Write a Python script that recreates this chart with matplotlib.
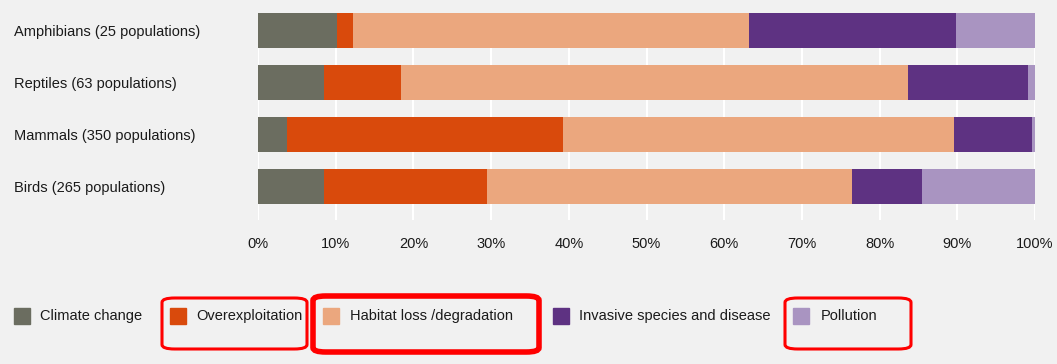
import matplotlib.pyplot as plt
import numpy as np
from matplotlib.patches import FancyBboxPatch, Rectangle

plt.rcParams['font.family'] = ['Liberation Sans', 'DejaVu Sans']

# data (percent of threats per group)
groups = ["Amphibians (25 populations)", "Reptiles (63 populations)",
          "Mammals (350 populations)", "Birds (265 populations)"]
threats = ["Climate change", "Overexploitation", "Habitat loss /degradation",
           "Invasive species and disease", "Pollution"]
climate = [10.2, 8.5, 3.7, 8.5]
overexploitation = [2.0, 9.9, 35.6, 21.0]
habitat = [51.0, 65.3, 50.3, 47.0]
invasive = [26.6, 15.4, 10.0, 9.0]
pollution = [10.2, 0.9, 0.4, 14.5]
colors = ["#6b6d60", "#d94a0c", "#eba77e", "#5e3282", "#a994c1"]

bg = "#f1f1f1"
txt = "#1a1a1a"
fig = plt.figure(figsize=(10.57, 3.64), dpi=100, facecolor=bg)
ax = fig.add_axes([258 / 1057, 1 - 220 / 364, 777 / 1057, 207 / 364])
ax.set_facecolor(bg)

series = [climate, overexploitation, habitat, invasive, pollution]
y = np.arange(len(groups))
left = np.zeros(len(groups))
for vals, c, name in zip(series, colors, threats):
    ax.barh(y, vals, left=left, height=0.67, color=c, label=name, zorder=3)
    left += np.array(vals)

ax.set_xlim(0, 100)
ax.set_ylim(3.65, -0.335)
ax.set_xticks(np.arange(0, 101, 10))
ax.set_xticklabels([f"{v}%" for v in range(0, 101, 10)], fontsize=10.5, color=txt)
ax.tick_params(axis='x', length=0, pad=12)
ax.set_yticks(y)
ax.set_yticklabels(groups, fontsize=10.5, color=txt)
ax.tick_params(axis='y', length=0, pad=0)
for lab in ax.get_yticklabels():
    lab.set_horizontalalignment('left')
    lab.set_x(-(258 - 14) / 777)
ax.grid(axis='x', color='white', linewidth=1.5, zorder=0)
for s in ax.spines.values():
    s.set_visible(False)

# legend drawn by hand
sq_x = [14, 170, 323, 553, 793]
tx_x = [40, 196, 350, 579, 821]
for sx, tx, c, name in zip(sq_x, tx_x, colors, threats):
    fig.patches.append(Rectangle((sx / 1057, 1 - 324 / 364), 16 / 1057, 16 / 364,
                                 transform=fig.transFigure, color=c))
    fig.text(tx / 1057, 1 - 316 / 364, name, fontsize=10.5, color=txt,
             va='center', ha='left')

# red highlight boxes
boxes = [(162, 298, 307, 349, 2.2), (313, 296, 539, 352, 4.0), (785, 298, 911, 349, 2.2)]
for x0, y0, x1, y1, lw in boxes:
    fig.patches.append(FancyBboxPatch((x0 / 1057, 1 - y1 / 364), (x1 - x0) / 1057, (y1 - y0) / 364,
                                      boxstyle="round,pad=0,rounding_size=0.012",
                                      transform=fig.transFigure, fill=False,
                                      edgecolor="#ff0000", linewidth=lw))

fig.savefig("out.png", dpi=100, facecolor=bg)
